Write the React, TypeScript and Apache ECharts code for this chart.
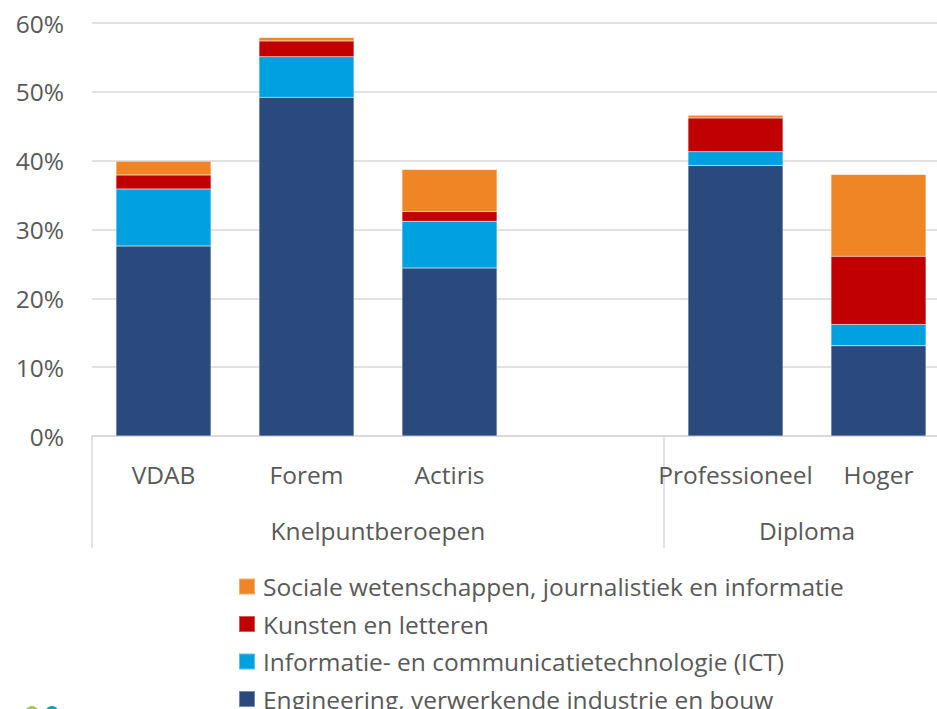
import React, { useEffect, useRef } from "react";
import * as echarts from "echarts";

const categories = ["VDAB", "Forem", "Actiris", "", "Professioneel", "Hoger"];
const groupLabels = ["Knelpuntberoepen", "Diploma"];
const seriesNames = [
  "Engineering, verwerkende industrie en bouw",
  "Informatie- en communicatietechnologie (ICT)",
  "Kunsten en letteren",
  "Sociale wetenschappen, journalistiek en informatie",
];
const engineering = [27.6, 49.2, 24.4, null, 39.3, 13.1];
const ict = [8.3, 5.9, 6.8, null, 2.0, 3.1];
const kunsten = [2.0, 2.3, 1.4, null, 4.9, 9.9];
const sociale = [2.0, 0.5, 6.1, null, 0.4, 11.9];
const colors = ["#2a4a7e", "#00a1de", "#c00000", "#ef8524"];

const FONT = "Open Sans";
const TXT = "#595959";
const FS = 24.5;

export default function App() {
  const ref = useRef<HTMLDivElement>(null);
  useEffect(() => {
    if (!ref.current) return;
    const chart = echarts.init(ref.current, undefined, { renderer: "svg" });
    const data = [engineering, ict, kunsten, sociale];
    chart.setOption({
      animation: false,
      textStyle: { fontFamily: FONT },
      grid: { left: 92, top: 23, width: 858, height: 413, containLabel: false },
      legend: {
        orient: "vertical",
        left: 238,
        top: 574,
        height: 200,
        padding: 0,
        itemWidth: 16,
        itemHeight: 16,
        itemGap: 12.5,
        icon: "rect",
        data: seriesNames.slice().reverse(),
        textStyle: { fontFamily: FONT, fontSize: FS, color: TXT, padding: [0, 0, 0, 3] },
      },
      xAxis: [
        {
          type: "category",
          data: categories,
          axisLine: { show: true, lineStyle: { color: "#d9d9d9", width: 1.5 } },
          axisTick: { show: false },
          axisLabel: { color: TXT, fontSize: FS, fontFamily: FONT, margin: 26, interval: 0 },
        },
        {
          type: "value",
          min: 0,
          max: 6,
          position: "bottom",
          axisLine: { show: false },
          splitLine: { show: false },
          axisTick: {
            show: true,
            customValues: [0, 4],
            length: 112,
            lineStyle: { color: "#d9d9d9", width: 1.5 },
          },
          axisLabel: {
            customValues: [2, 5],
            formatter: (v: number) => (v === 2 ? groupLabels[0] : groupLabels[1]),
            color: TXT,
            fontSize: FS,
            fontFamily: FONT,
            margin: 82,
          },
        },
      ],
      yAxis: {
        type: "value",
        min: 0,
        max: 60,
        interval: 10,
        axisLine: { show: false },
        axisTick: { show: false },
        splitLine: { lineStyle: { color: "#d9d9d9", width: 1.5 } },
        axisLabel: {
          formatter: (v: number) => `${v}%`,
          color: TXT,
          fontSize: FS,
          fontFamily: FONT,
          margin: 28,
        },
      },
      series: seriesNames.map((name, i) => ({
        name,
        type: "bar",
        stack: "total",
        xAxisIndex: 0,
        barWidth: 95,
        data: data[i],
        itemStyle: { color: colors[i], borderColor: "rgba(255,255,255,0.35)", borderWidth: 0.5 },
      })),
      graphic: [
        { type: "circle", shape: { cx: 15, cy: 715, r: 6 }, style: { fill: "#e6e04a" } },
        { type: "circle", shape: { cx: 32, cy: 713, r: 7 }, style: { fill: "#a6cd4a" } },
        { type: "circle", shape: { cx: 52, cy: 713, r: 7 }, style: { fill: "#00a9b8" } },
      ],
    });
    return () => chart.dispose();
  }, []);
  return (
    <div
      style={{
        position: "fixed",
        left: 0,
        top: 0,
        width: 937,
        height: 709,
        overflow: "hidden",
        background: "#fff",
      }}
    >
      <div ref={ref} style={{ width: 960, height: 709 }} />
    </div>
  );
}
